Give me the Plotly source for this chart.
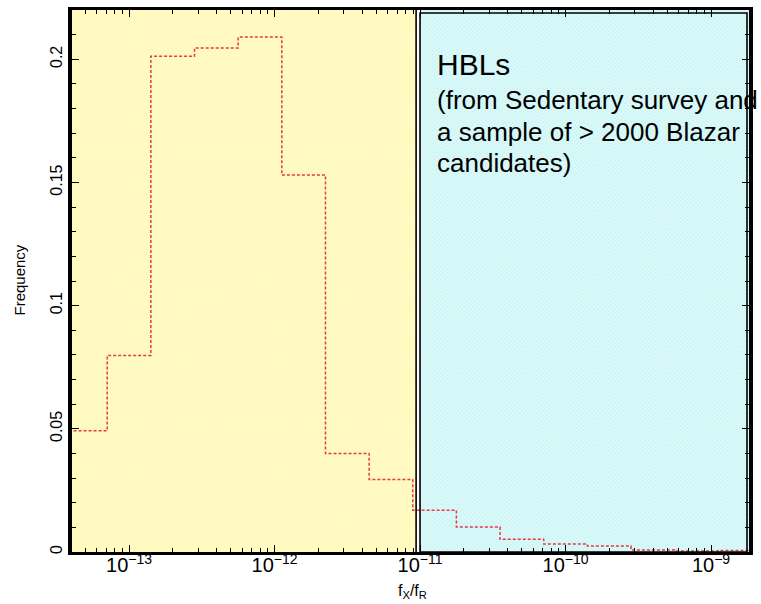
import plotly.graph_objects as go

# Histogram of the X-ray to radio flux ratio (log10 bin edges, frequencies)
bin_edges_log = [-13.45, -13.15, -12.85, -12.55, -12.25, -11.95, -11.65, -11.35,
                 -11.05, -10.75, -10.45, -10.15, -9.85, -9.55, -9.25, -8.95, -8.65]
frequency = [0.0492, 0.0798, 0.2012, 0.2046, 0.2090, 0.1530, 0.0400, 0.0294,
             0.0169, 0.0101, 0.0052, 0.0032, 0.0024, 0.0008, 0.0004, 0.0006]

# Source-class regions (log10 of fX/fR)
hbl_boundary_log = -11.0
x_range_log = [-13.392, -8.739]
y_range = [0, 0.22]
y_tick_vals = [0, 0.05, 0.1, 0.15, 0.2]
y_tick_text = ["0", "0.05", "0.1", "0.15", "0.2"]

FONT = "Arial, Liberation Sans, Helvetica, sans-serif"

# plot-area geometry in pixels, used to place shapes and annotations
W, H = 761, 604
L, R, T, B = 72, 12, 7, 52
PW, PH = W - L - R, H - T - B


def px_x(px):
    return (px - L) / PW


def px_y(py):
    return (H - B - py) / PH


def log_to_paper(v):
    return (v - x_range_log[0]) / (x_range_log[1] - x_range_log[0])


fig = go.Figure()

# yellow (LBL side) hatched background
left_edge = hbl_boundary_log - 0.027
fig.add_trace(go.Scatter(
    x=[1e-14, 10 ** left_edge, 10 ** left_edge, 1e-14, 1e-14],
    y=[0, 0, 0.25, 0.25, 0],
    mode="lines", line=dict(width=0), fill="toself",
    fillcolor="#fffac0",
    fillpattern=dict(shape="x", size=3, solidity=0.5,
                     fgcolor="#ffffff", bgcolor="#fff8ac"),
    hoverinfo="skip", showlegend=False,
))

# cyan (HBL side) hatched background
fig.add_trace(go.Scatter(
    x=[10 ** hbl_boundary_log, 1e-8, 1e-8, 10 ** hbl_boundary_log, 10 ** hbl_boundary_log],
    y=[0, 0, 0.25, 0.25, 0],
    mode="lines", line=dict(width=0), fill="toself",
    fillcolor="#d8f8f8",
    fillpattern=dict(shape="x", size=3, solidity=0.5,
                     fgcolor="#ffffff", bgcolor="#c8f5f5"),
    hoverinfo="skip", showlegend=False,
))

# step histogram
xs = [10 ** e for e in bin_edges_log]
ys = frequency + [frequency[-1]]
fig.add_trace(go.Scatter(
    x=xs, y=ys, mode="lines", line_shape="hv",
    line=dict(color="#e83a44", width=1.5, dash="3px,2px"),
    hoverinfo="skip", showlegend=False,
))

# boundary line and HBL box outline
fig.add_shape(type="line", xref="paper", yref="paper",
              x0=log_to_paper(left_edge), x1=log_to_paper(left_edge), y0=0, y1=1,
              line=dict(color="black", width=1.6), layer="above")
fig.add_shape(type="rect", xref="paper", yref="paper",
              x0=log_to_paper(hbl_boundary_log), x1=px_x(747), y0=0, y1=px_y(10),
              line=dict(color="black", width=1.6), layer="above")

# label text
text_x = px_x(435)
fig.add_annotation(text="HBLs", xref="paper", yref="paper", x=text_x, y=px_y(62),
                   xanchor="left", yanchor="middle", showarrow=False,
                   font=dict(family=FONT, size=30, color="black"))
for line_text, py in [("(from Sedentary survey and", 98),
                      ("a sample of &gt; 2000 Blazar", 130),
                      ("candidates)", 161)]:
    fig.add_annotation(text=line_text, xref="paper", yref="paper", x=text_x, y=px_y(py),
                       xanchor="left", yanchor="middle", showarrow=False,
                       font=dict(family=FONT, size=26, color="black"))

# axis titles
fig.add_annotation(text="Frequency", xref="paper", yref="paper", x=px_x(20), y=px_y(279),
                   textangle=-90, xanchor="center", yanchor="middle", showarrow=False,
                   font=dict(family=FONT, size=15, color="black"))
fig.add_annotation(text="f<sub>X</sub>/f<sub>R</sub>", xref="paper", yref="paper",
                   x=px_x(412), y=px_y(592), xanchor="center", yanchor="middle",
                   showarrow=False, font=dict(family=FONT, size=16, color="black"))

fig.update_xaxes(
    type="log", range=x_range_log, dtick=1, exponentformat="power",
    showgrid=False, zeroline=False,
    showline=True, linecolor="black", linewidth=3, mirror="allticks",
    ticks="inside", ticklen=7, tickwidth=1.2, tickcolor="black",
    ticklabelstandoff=-6,
    minor=dict(ticks="inside", ticklen=4, tickwidth=1, tickcolor="black",
               dtick="D1", showgrid=False),
    tickfont=dict(family=FONT, size=16, color="black"),
)
fig.update_yaxes(
    range=y_range, tickvals=y_tick_vals, ticktext=y_tick_text, tickangle=-90,
    showgrid=False, zeroline=False,
    showline=True, linecolor="black", linewidth=4, mirror="allticks",
    ticks="inside", ticklen=7, tickwidth=1.2, tickcolor="black",
    minor=dict(ticks="inside", ticklen=4, tickwidth=1, tickcolor="black", dtick=0.01,
               showgrid=False),
    tickfont=dict(family=FONT, size=16, color="black"),
)

fig.update_layout(
    width=W, height=H,
    margin=dict(l=L, r=R, t=T, b=B),
    paper_bgcolor="white", plot_bgcolor="white",
    showlegend=False,
)

fig.write_html("out.html")
